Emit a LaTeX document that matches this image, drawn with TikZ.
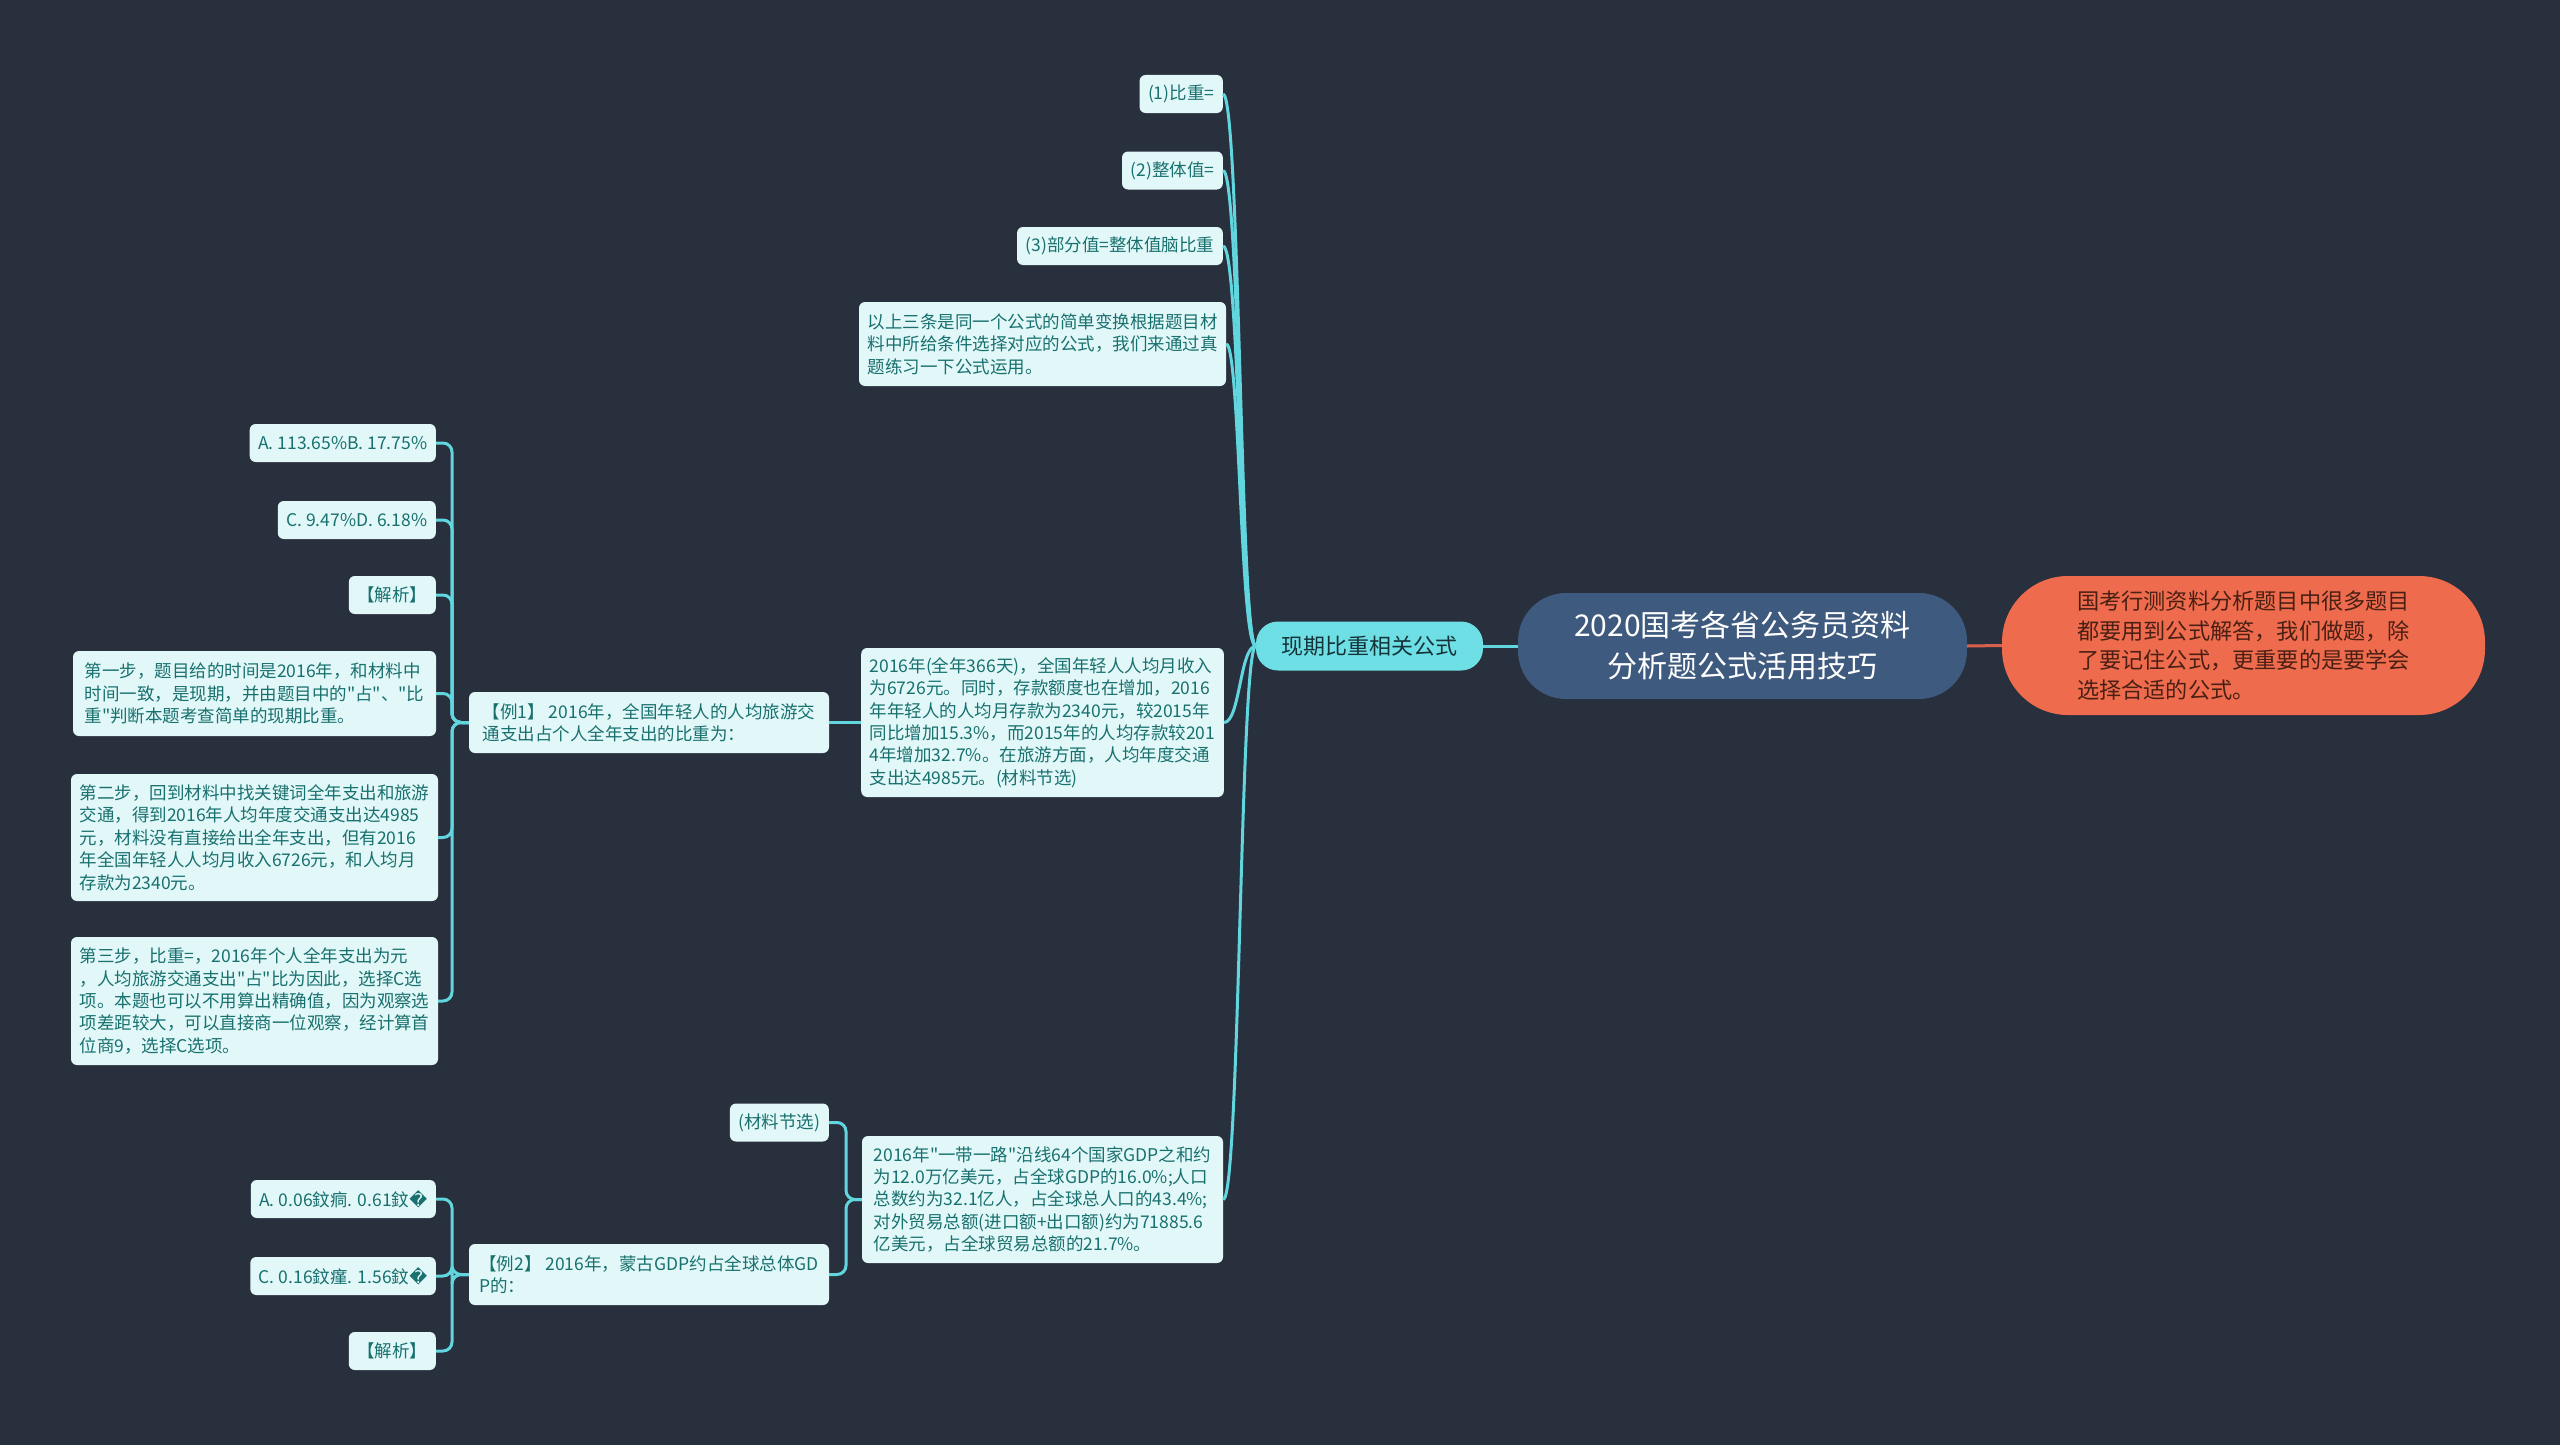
\documentclass[tikz,border=0pt]{standalone}
\usepackage{fontspec}
\newfontfamily\cjk{Noto Sans CJK SC}
\newfontfamily\djv{DejaVu Sans}
\definecolor{bg}{HTML}{282F3D}
\definecolor{leaffill}{HTML}{E2F8F8}
\definecolor{leaftext}{HTML}{18706F}
\definecolor{linkc}{HTML}{62D6DE}
\definecolor{qfill}{HTML}{6EDFE5}
\definecolor{qtext}{HTML}{14343A}
\definecolor{rootfill}{HTML}{3E5A7E}
\definecolor{orfill}{HTML}{EE6C4D}
\definecolor{ortext}{HTML}{4A1F14}
\definecolor{redlink}{HTML}{D9614C}
\newcommand{\rpl}{{\djv\symbol{"FFFD}}}
\begin{document}
\begin{tikzpicture}[x=1pt,y=-1pt,
  leaf/.style={rectangle, rounded corners=6pt, fill=leaffill, text=leaftext,
    font=\cjk\fontsize{17.5}{22.4}\selectfont, inner xsep=8.5pt, inner ysep=0pt,
    minimum height=38pt, align=left, anchor=east},
  mleaf/.style={leaf, anchor=center},
  link/.style={draw=linkc, line width=3pt},
  elbow/.style={link, rounded corners=9pt}]
\useasboundingbox[fill=bg] (0,0) rectangle (2560,1445);

% central
\node[rectangle, rounded corners=48pt, fill=rootfill, text=white, minimum width=449pt, minimum height=106pt,
  font=\cjk\fontsize{30}{41}\selectfont, align=center, inner sep=0pt] (root) at (1742.5,646)
  {2020国考各省公务员资料\\分析题公式活用技巧};
\node[rectangle, rounded corners=66pt, fill=orfill, text=ortext, minimum width=483pt, minimum height=139pt,
  font=\cjk\fontsize{22.2}{29.4}\selectfont, align=left, inner sep=0pt] (intro) at (2243.5,645.5)
  {国考行测资料分析题目中很多题目\\都要用到公式解答，我们做题，除\\了要记住公式，更重要的是要学会\\选择合适的公式。};
\node[rectangle, rounded corners=22pt, fill=qfill, text=qtext, minimum width=227pt, minimum height=49pt,
  font=\cjk\fontsize{22}{28}\selectfont, inner sep=0pt] (q) at (1369.5,646) {现期比重相关公式};

% children of q
\node[leaf] (n1) at (1223,94) {(1)比重=};
\node[leaf] (n2) at (1223,170.5) {(2)整体值=};
\node[leaf] (n3) at (1223,246) {(3)部分值=整体值脑比重};
\node[mleaf, minimum width=361pt, minimum height=84pt] (n4) at (1042.5,344)
  {以上三条是同一个公式的简单变换根据题目材\\料中所给条件选择对应的公式，我们来通过真\\题练习一下公式运用。};
\node[mleaf, minimum width=361pt, minimum height=149pt] (n5) at (1042.5,722.5)
  {2016年(全年366天)，全国年轻人人均月收入\\为6726元。同时，存款额度也在增加，2016\\年年轻人的人均月存款为2340元，较2015年\\同比增加15.3\%，而2015年的人均存款较201\\4年增加32.7\%。在旅游方面，人均年度交通\\支出达4985元。(材料节选)};
\node[mleaf, minimum width=361pt, minimum height=127pt] (n6) at (1042.5,1199.5)
  {2016年"一带一路"沿线64个国家GDP之和约\\为12.0万亿美元，占全球GDP的16.0\%;人口\\总数约为32.1亿人，占全球总人口的43.4\%;\\对外贸易总额(进口额+出口额)约为71885.6\\亿美元，占全球贸易总额的21.7\%。};

% example 1
\node[mleaf, minimum width=360pt, minimum height=61pt] (e1) at (649,722.5)
  {【例1】 2016年，全国年轻人的人均旅游交\\通支出占个人全年支出的比重为：};
\node[leaf] (a1) at (436,443) {A. 113.65\%B. 17.75\%};
\node[leaf] (c1) at (436,520) {C. 9.47\%D. 6.18\%};
\node[leaf] (j1) at (436,595) {【解析】};
\node[mleaf, minimum width=363pt, minimum height=85pt] (s1) at (254.5,693.5)
  {第一步，题目给的时间是2016年，和材料中\\时间一致，是现期，并由题目中的"占"、"比\\重"判断本题考查简单的现期比重。};
\node[mleaf, minimum width=363pt, minimum height=127pt] (s2) at (254.5,837.5)
  {第二步，回到材料中找关键词全年支出和旅游\\交通，得到2016年人均年度交通支出达4985\\元，材料没有直接给出全年支出，但有2016\\年全国年轻人人均月收入6726元，和人均月\\存款为2340元。};
\node[mleaf, minimum width=363pt, minimum height=128pt] (s3) at (254.5,1001)
  {第三步，比重=，2016年个人全年支出为元\\，人均旅游交通支出"占"比为因此，选择C选\\项。本题也可以不用算出精确值，因为观察选\\项差距较大，可以直接商一位观察，经计算首\\位商9，选择C选项。};

% example 2
\node[leaf] (m) at (829,1122.5) {(材料节选)};
\node[mleaf, minimum width=360pt, minimum height=61pt] (e2) at (649,1274.5)
  {【例2】 2016年，蒙古GDP约占全球总体GD\\P的：};
\node[leaf] (a2) at (436,1199) {A. 0.06鈫痌. 0.61鈫\rpl};
\node[leaf] (c2) at (436,1276) {C. 0.16鈫瘽. 1.56鈫\rpl};
\node[leaf] (j2) at (436,1351) {【解析】};

% spines
\coordinate (spq) at (1240,646);
\coordinate (sp1) at (452,722.5);
\coordinate (sp2) at (846,1199.5);
\coordinate (sp3) at (452,1274.5);

% connectors
\draw[link] (root.west) -- (q.east);
\draw[draw=redlink, line width=3pt] (root.east) -- (intro.west);
\foreach \c in {n1,n2,n3,n4,n5,n6}
  \draw[link] (\c.east) .. controls (\c.east -| spq) and (q.west -| spq) .. (q.west);
\draw[link] (n5.west) -- (e1.east);
\foreach \c in {a1,c1,j1,s1,s2,s3}
  \draw[elbow] (\c.east) -- (\c.east -| sp1) |- (e1.west);
\foreach \c in {m,e2}
  \draw[elbow] (\c.east) -- (\c.east -| sp2) |- (n6.west);
\foreach \c in {a2,c2,j2}
  \draw[elbow] (\c.east) -- (\c.east -| sp3) |- (e2.west);
\end{tikzpicture}
\end{document}
